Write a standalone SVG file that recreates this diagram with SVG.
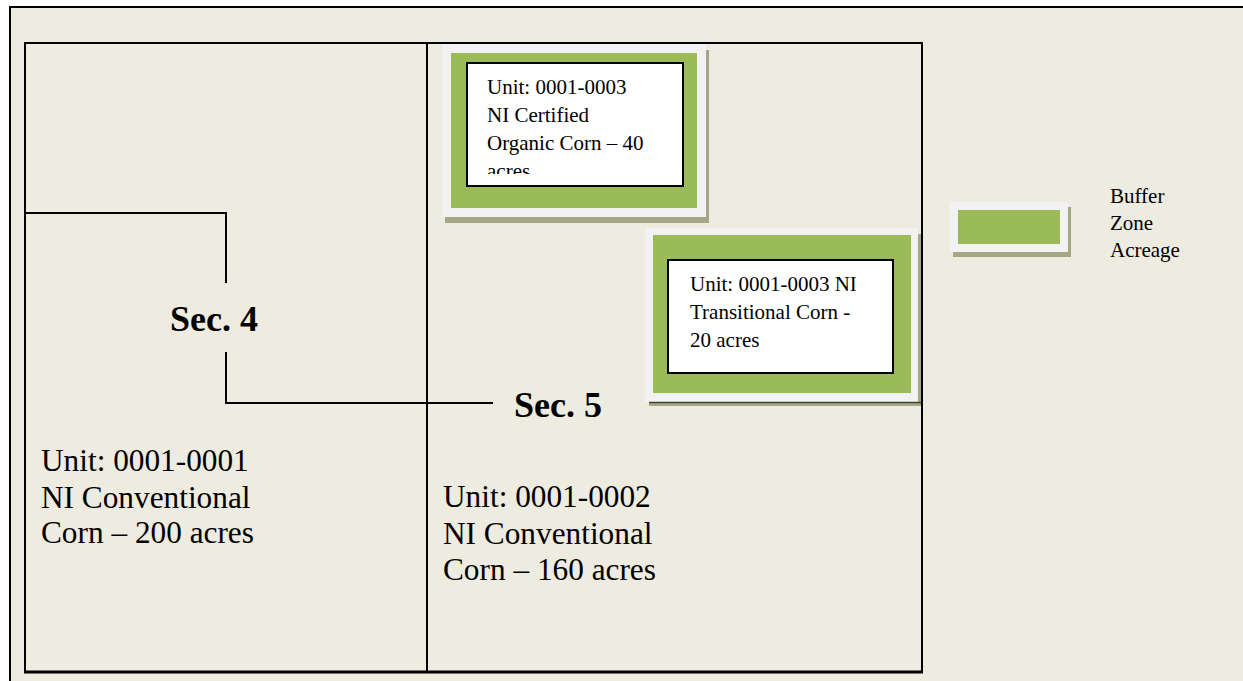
<svg xmlns="http://www.w3.org/2000/svg" width="1243" height="681" viewBox="0 0 1243 681">
<style>
.t{font-family:"Liberation Serif","Times New Roman",serif;fill:#000}
.s{font-size:21px}
.l{font-size:31.3px}
.b{font-size:36px;font-weight:bold}
.frame{fill:#f2f2f2}
.green{fill:#9bbb59}
.shadow{fill:#a4a887}
.wbox{fill:#fff;stroke:#000;stroke-width:2}
.ln{stroke:#000;stroke-width:2;fill:none}
</style>
<defs>
<clipPath id="clip1"><rect x="468" y="64" width="214" height="110"/></clipPath>
</defs>
<rect x="0" y="0" width="1243" height="681" fill="#fff"/>
<rect x="10" y="7" width="1233" height="674" fill="#eeebe0"/>
<g id="outer-frame">
<line x1="9" y1="7" x2="1243" y2="7" class="ln"/>
<line x1="10" y1="6" x2="10" y2="681" class="ln"/>
</g>
<g id="sections">
<line x1="24" y1="43" x2="923" y2="43" class="ln"/>
<line x1="25" y1="42" x2="25" y2="673" class="ln"/>
<line x1="922" y1="42" x2="922" y2="673" class="ln"/>
<line x1="24" y1="672" x2="923" y2="672" stroke="#000" stroke-width="3"/>
<line x1="427" y1="43" x2="427" y2="672" class="ln"/>
</g>
<g id="connectors">
<polyline points="25,213 226,213 226,283" class="ln"/>
<polyline points="226,352 226,403 493,403" class="ln"/>
</g>
<g id="sec4"><text class="t b" x="170" y="331">Sec. 4</text></g>
<g id="sec5"><text class="t b" x="514" y="417">Sec. 5</text></g>
<g id="unit1">
<text class="t l" x="41" y="471">Unit: 0001-0001</text>
<text class="t l" x="41" y="508">NI Conventional</text>
<text class="t l" x="41" y="543">Corn – 200 acres</text>
</g>
<g id="unit2">
<text class="t l" x="443" y="507">Unit: 0001-0002</text>
<text class="t l" x="443" y="544">NI Conventional</text>
<text class="t l" x="443" y="580">Corn – 160 acres</text>
</g>
<g id="unit3-organic">
<rect x="445" y="50" width="264" height="173" class="shadow"/>
<rect x="442" y="44" width="264" height="173" class="frame"/>
<rect x="451" y="53" width="246" height="155" class="green"/>
<rect x="467" y="63" width="216" height="123" class="wbox"/>
<g clip-path="url(#clip1)">
<text class="t s" x="487" y="94">Unit: 0001-0003</text>
<text class="t s" x="487" y="122">NI Certified</text>
<text class="t s" x="487" y="150">Organic Corn – 40</text>
<text class="t s" x="487" y="178">acres</text>
</g>
</g>
<g id="unit3-transitional">
<rect x="649" y="234" width="272" height="172" class="shadow"/>
<rect x="645" y="228" width="273" height="174" class="frame"/>
<rect x="653" y="235" width="258" height="158" class="green"/>
<rect x="668" y="260" width="225" height="113" class="wbox"/>
<line x1="649" y1="402.5" x2="921" y2="402.5" stroke="#3f4528" stroke-width="1.5"/>
<text class="t s" x="690" y="291">Unit: 0001-0003 NI</text>
<text class="t s" x="690" y="319">Transitional Corn -</text>
<text class="t s" x="690" y="347">20 acres</text>
</g>
<g id="legend">
<rect x="953" y="207" width="118" height="50" class="shadow"/>
<rect x="950" y="202" width="118" height="50" class="frame"/>
<rect x="958" y="210" width="102" height="34" class="green"/>
<text class="t s" x="1110" y="203">Buffer</text>
<text class="t s" x="1110" y="230">Zone</text>
<text class="t s" x="1110" y="257">Acreage</text>
</g>
</svg>
